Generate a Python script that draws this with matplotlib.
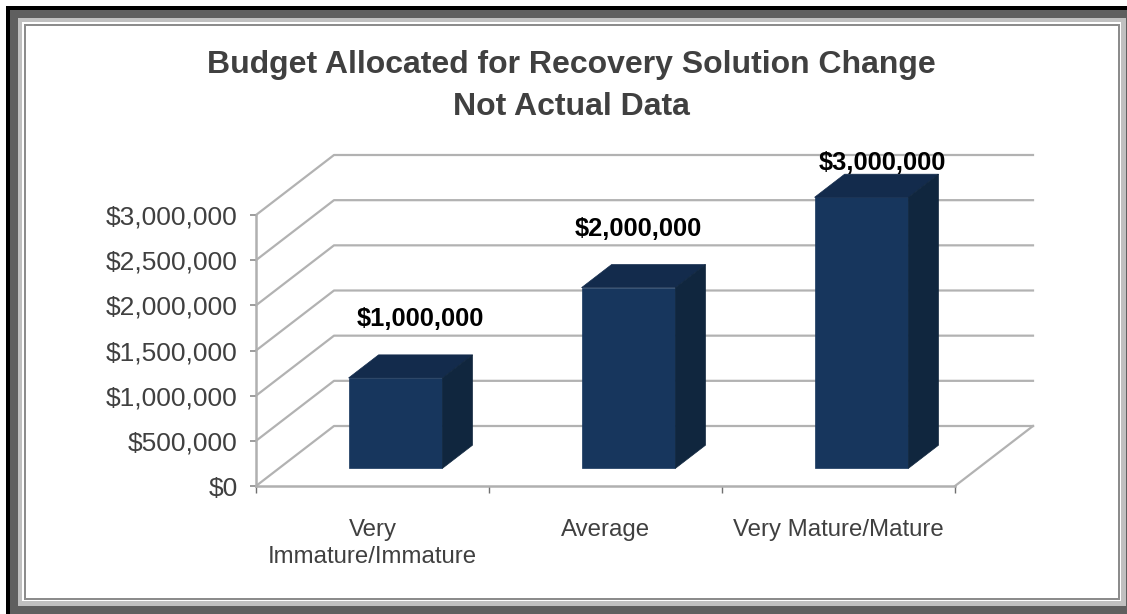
import matplotlib
matplotlib.use('Agg')
import matplotlib.pyplot as plt
from matplotlib.patches import Rectangle

plt.rcParams['font.family'] = ['Liberation Sans', 'DejaVu Sans']

W, H = 1127, 614

categories = ['Very\nImmature/Immature', 'Average', 'Very Mature/Mature']
values = [1000000, 2000000, 3000000]
value_labels = ['$1,000,000', '$2,000,000', '$3,000,000']
y_ticks = [0, 500000, 1000000, 1500000, 2000000, 2500000, 3000000]
y_labels = ['$0', '$500,000', '$1,000,000', '$1,500,000', '$2,000,000', '$2,500,000', '$3,000,000']
title = 'Budget Allocated for Recovery Solution Change\nNot Actual Data'

# fake 3d: how far the back wall sits from the front plane, in data units
DX = 78 / 233.0
DY = 60 * 3000000 / 271.0
BAR_W = 0.403
BAR_GAP = 0.295   # front of bar, as share of the depth
BAR_DEPTH = 0.385
label_dx = [25, 10, 21]
label_pad = [59, 59, 34]

GRID = '#b2b2b2'
FRONT = '#17365d'
TOP = '#132b4c'
SIDE = '#10263e'
TEXT = '#404040'

fig = plt.figure(figsize=(W / 100, H / 100), dpi=100, facecolor='white')

# picture frame, in pixels
bg = fig.add_axes([0, 0, 1, 1])
bg.set_xlim(0, W)
bg.set_ylim(H, 0)
bg.axis('off')
frame = [(6, 6, W, H, '#000000'),
         (10, 10, W, H, '#5f5f5f'),
         (18, 18, 1108, 588, '#c0c0c0'),
         (22, 22, 1099, 579, '#ffffff'),
         (24, 24, 1096, 576, '#8c8c8c'),
         (26, 26, 1092, 572, '#ffffff')]
for x, y, w, h, c in frame:
    bg.add_patch(Rectangle((x, y), w, h, facecolor=c, edgecolor='none'))

ax = fig.add_axes([256 / W, (H - 486) / H, 699 / W, 271 / H])
ax.patch.set_alpha(0)
ax.set_xlim(0, 3)
ax.set_ylim(0, 3000000)

# walls and floor
for v in y_ticks:
    ax.plot([0, DX, 3 + DX], [v, v + DY, v + DY], color=GRID, lw=1.6, clip_on=False, zorder=1)
ax.plot([3, 3 + DX], [0, DY], color=GRID, lw=1.6, clip_on=False, zorder=1)

# bars
for i, v in enumerate(values):
    x0 = i + 0.5 - BAR_W / 2 + BAR_GAP * DX
    x1 = x0 + BAR_W
    y0 = BAR_GAP * DY
    y1 = y0 + v
    ddx = BAR_DEPTH * DX
    ddy = BAR_DEPTH * DY
    ax.fill([x0, x1, x1, x0], [y0, y0, y1, y1], color=FRONT, lw=0.5, clip_on=False, zorder=3)
    ax.fill([x0, x1, x1 + ddx, x0 + ddx], [y1, y1, y1 + ddy, y1 + ddy], color=TOP, lw=0.5, clip_on=False, zorder=3)
    ax.fill([x1, x1 + ddx, x1 + ddx, x1], [y0, y0 + ddy, y1 + ddy, y1], color=SIDE, lw=0.5, clip_on=False, zorder=3)
    ax.annotate(value_labels[i], xy=((x0 + x1) / 2, y1), xytext=(label_dx[i], label_pad[i]),
                textcoords='offset pixels', ha='center', va='center',
                fontsize=18.4, fontweight='bold', color='black', zorder=5, annotation_clip=False)

ax.set_yticks(y_ticks)
ax.set_yticklabels(y_labels)
ax.set_xticks([0, 1, 2, 3])
ax.set_xticklabels([])
ax.set_xticks([0.5, 1.5, 2.5], minor=True)
ax.set_xticklabels(categories, minor=True, linespacing=1.3)
ax.tick_params(axis='y', labelsize=19, labelcolor=TEXT, color='#8c8c8c', length=4, width=1.2, pad=9)
ax.tick_params(axis='x', which='major', color='#707070', length=5, width=1)
ax.tick_params(axis='x', which='minor', labelsize=17.3, labelcolor=TEXT, length=0, pad=23.5)
for s in ['top', 'right']:
    ax.spines[s].set_visible(False)
for s in ['left', 'bottom']:
    ax.spines[s].set_color('#b0b0b0')
    ax.spines[s].set_linewidth(1.8)

fig.text(571 / W, 1 - 86 / H, title, ha='center', va='center', fontsize=23, fontweight='bold',
         color=TEXT, linespacing=1.52)

fig.savefig('out.png', dpi=100)
